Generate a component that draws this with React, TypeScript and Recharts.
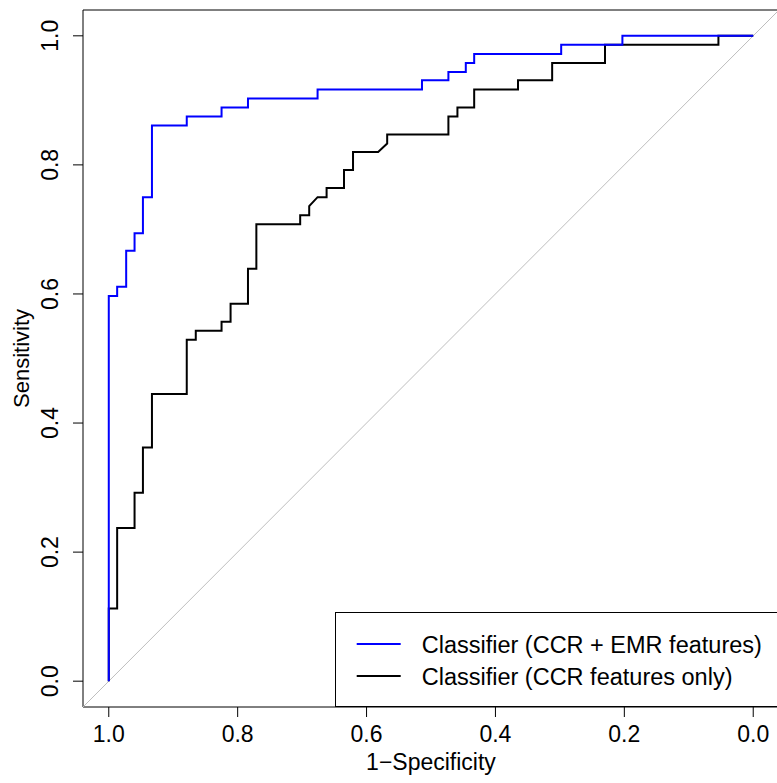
import React from 'react';
import { LineChart, Line, XAxis, YAxis, ReferenceLine, ReferenceArea } from 'recharts';

const FONT = "'Liberation Sans', Arial, Helvetica, sans-serif";
const FS = 23;

const xTicks = [1.0, 0.8, 0.6, 0.4, 0.2, 0.0];
const yTicks = [0.0, 0.2, 0.4, 0.6, 0.8, 1.0];

const seriesNames = ['Classifier (CCR + EMR features)', 'Classifier (CCR features only)'];
const seriesColors = ['#0000ff', '#000000'];

// Classifier (CCR + EMR features)
const emrSpec = [1.0, 1.0, 0.987, 0.987, 0.973, 0.973, 0.96, 0.96, 0.947, 0.947, 0.933, 0.933, 0.879, 0.879, 0.825, 0.825, 0.784, 0.784, 0.676, 0.676, 0.514, 0.514, 0.473, 0.473, 0.446, 0.446, 0.433, 0.433, 0.298, 0.298, 0.203, 0.203, 0.0];
const emrSens = [0.0, 0.597, 0.597, 0.611, 0.611, 0.667, 0.667, 0.694, 0.694, 0.75, 0.75, 0.861, 0.861, 0.875, 0.875, 0.889, 0.889, 0.903, 0.903, 0.917, 0.917, 0.931, 0.931, 0.944, 0.944, 0.958, 0.958, 0.972, 0.972, 0.986, 0.986, 1.0, 1.0];

// Classifier (CCR features only)
const ccrSpec = [1.0, 1.0, 0.987, 0.987, 0.96, 0.96, 0.947, 0.947, 0.933, 0.933, 0.879, 0.879, 0.865, 0.865, 0.825, 0.825, 0.811, 0.811, 0.784, 0.784, 0.771, 0.771, 0.703, 0.703, 0.689, 0.689, 0.676, 0.662, 0.662, 0.635, 0.635, 0.621, 0.621, 0.582, 0.568, 0.568, 0.473, 0.473, 0.459, 0.459, 0.433, 0.433, 0.365, 0.365, 0.312, 0.312, 0.23, 0.23, 0.054, 0.054, 0.0];
const ccrSens = [0.0, 0.1125, 0.1125, 0.2375, 0.2375, 0.292, 0.292, 0.362, 0.362, 0.445, 0.445, 0.529, 0.529, 0.543, 0.543, 0.557, 0.557, 0.585, 0.585, 0.639, 0.639, 0.708, 0.708, 0.722, 0.722, 0.736, 0.75, 0.75, 0.764, 0.764, 0.792, 0.792, 0.82, 0.82, 0.833, 0.847, 0.847, 0.875, 0.875, 0.889, 0.889, 0.917, 0.917, 0.931, 0.931, 0.958, 0.958, 0.986, 0.986, 1.0, 1.0];

const emrData = emrSpec.map((x, i) => ({ x, y: emrSens[i] }));
const ccrData = ccrSpec.map((x, i) => ({ x, y: ccrSens[i] }));

const DOMAIN: [number, number] = [-0.04, 1.04];

const YTick = (props: any) => {
  const { x, y, payload } = props;
  return (
    <text
      x={0}
      y={0}
      transform={`translate(${x - 13}, ${y}) rotate(-90)`}
      textAnchor="middle"
      fontSize={FS}
      fontFamily={FONT}
      fill="#000"
    >
      {Number(payload.value).toFixed(1)}
    </text>
  );
};

const YLabel = (props: any) => {
  const vb = props.viewBox || {};
  const cy = vb.y + vb.height / 2;
  return (
    <text
      x={0}
      y={0}
      transform={`translate(29, ${cy}) rotate(-90)`}
      textAnchor="middle"
      fontSize={FS - 1}
      fontFamily={FONT}
      fill="#000"
    >
      Sensitivity
    </text>
  );
};

const XLabel = (props: any) => {
  const vb = props.viewBox || {};
  const cx = vb.x + vb.width / 2;
  return (
    <text x={cx} y={770} textAnchor="middle" fontSize={FS} fontFamily={FONT} fill="#000">
      1−Specificity
    </text>
  );
};

const LegendBox = () => (
  <svg
    width={446}
    height={95}
    style={{ position: 'absolute', left: 335, top: 612, display: 'block', overflow: 'visible' }}
  >
    <rect x={0.5} y={0.5} width={460} height={94} fill="#fff" stroke="#000" strokeWidth={1} />
    {seriesNames.map((name, i) => (
      <g key={name}>
        <line x1={21.7} x2={65.7} y1={32 + i * 32} y2={32 + i * 32} stroke={seriesColors[i]} strokeWidth={2} />
        <text x={86.7} y={41 + i * 32} fontSize={FS + 0.5} fontFamily={FONT} fill="#000">
          {name}
        </text>
      </g>
    ))}
  </svg>
);

export default function App() {
  return (
    <div style={{ position: 'absolute', left: 0, top: 0, width: 777, height: 783, overflow: 'hidden', background: '#fff' }}>
      <LineChart width={781} height={783} margin={{ top: 10, right: 2, bottom: 0, left: 0 }}>
        <XAxis
          dataKey="x"
          type="number"
          domain={DOMAIN}
          allowDataOverflow
          reversed
          ticks={xTicks}
          tickFormatter={(v: number) => v.toFixed(1)}
          tickSize={10}
          tickMargin={9}
          axisLine={false}
          tickLine={{ stroke: '#000' }}
          tick={{ fill: '#000', fontSize: FS, fontFamily: FONT }}
          height={76}
          interval={0}
          label={<XLabel />}
        />
        <YAxis
          dataKey="y"
          type="number"
          domain={DOMAIN}
          allowDataOverflow
          ticks={yTicks}
          tickSize={10}
          axisLine={false}
          tickLine={{ stroke: '#000' }}
          tick={<YTick />}
          width={83}
          interval={0}
          label={<YLabel />}
        />
        <ReferenceLine
          segment={[{ x: 1.04, y: -0.04 }, { x: -0.04, y: 1.04 }]}
          stroke="#bebebe"
          strokeWidth={1}
        />
        <ReferenceArea x1={-0.04} x2={1.04} y1={-0.04} y2={1.04} fill="none" stroke="#000" strokeWidth={1} fillOpacity={0} />
        <Line data={ccrData} dataKey="y" type="linear" stroke="#000" strokeWidth={2} dot={false} activeDot={false} isAnimationActive={false} name={seriesNames[1]} />
        <Line data={emrData} dataKey="y" type="linear" stroke="#0000ff" strokeWidth={2} dot={false} activeDot={false} isAnimationActive={false} name={seriesNames[0]} />
      </LineChart>
      <LegendBox />
    </div>
  );
}
